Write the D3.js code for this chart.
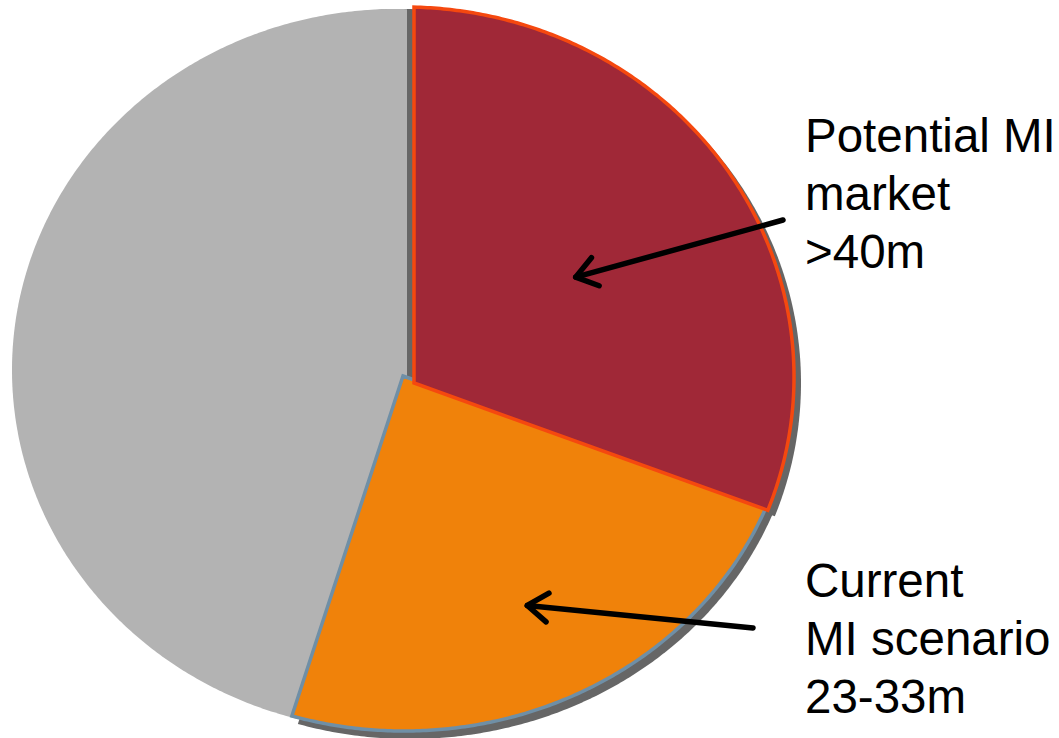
<!DOCTYPE html>
<html>
<head>
<meta charset="utf-8">
<script src="https://cdn.jsdelivr.net/npm/d3@7"></script>
<style>
  html, body { margin: 0; padding: 0; background: #ffffff; }
  svg { display: block; }
</style>
</head>
<body>
<svg id="chart" width="1059" height="738"></svg>
<script>
// ---- data ----
const categories = ["Potential MI market >40m", "Current MI scenario 23-33m", "Other"];
const values = [40, 31, 59];
const labelLines = [
  ["Potential MI", "market", ">40m"],
  ["Current", "MI scenario", "23-33m"],
  []
];

// ---- styling / layout (per slice, perspective-like elliptical pie) ----
const fills   = ["#A02837", "#F0820A", "#B3B3B3"];
const strokes = ["#F5480F", "#6F8FA6", "none"];
const geom = [
  { ax: 414, ay: 383, cx: 404, cy: 377, rx: 390, ry: 370, sh: [7, 6] },
  { ax: 403, ay: 376, cx: 404, cy: 375, rx: 390, ry: 356, sh: [6, 8] },
  { ax: 407, ay: 377, cx: 396, cy: 370, rx: 384, ry: 361, sh: [7, 0] }
];
const labelPos = [
  { x: 805, y: 152, tail: [783, 220], tipR: 0.51 },
  { x: 805, y: 597, tail: [753, 628], tipR: 0.72 }
];
const lineH = 58;

const svg = d3.select("#chart");
const pie = d3.pie().sort(null).value(d => d)(values);

function outlinePoint(g, theta, frac) {
  const px = (g.ax - g.cx) / g.rx, py = (g.ay - g.cy) / g.ry;
  const dx = Math.sin(theta), dy = -Math.cos(theta);
  const pd = px * dx + py * dy;
  const t = -pd + Math.sqrt(pd * pd - (px * px + py * py - 1));
  const qx = px + t * frac * dx, qy = py + t * frac * dy;
  return [g.cx + g.rx * qx, g.cy + g.ry * qy];
}

function slicePath(arc, g) {
  const n = Math.max(8, Math.ceil((arc.endAngle - arc.startAngle) * 120));
  const pts = [[g.ax, g.ay]];
  d3.range(n + 1).forEach(i => {
    const th = arc.startAngle + (arc.endAngle - arc.startAngle) * i / n;
    pts.push(outlinePoint(g, th, 1));
  });
  return d3.line()(pts) + "Z";
}

// shadows / side walls
const drawOrder = [2, 1, 0];
const shadowG = svg.append("g");
drawOrder.forEach(i => {
  shadowG.append("path")
    .attr("d", slicePath(pie[i], geom[i]))
    .attr("transform", `translate(${geom[i].sh[0]},${geom[i].sh[1]})`)
    .attr("fill", "#666666");
});

// slices
const sliceG = svg.append("g");
drawOrder.forEach(i => {
  sliceG.append("path")
    .attr("d", slicePath(pie[i], geom[i]))
    .attr("fill", fills[i])
    .attr("stroke", strokes[i])
    .attr("stroke-width", 3.5)
    .attr("stroke-linejoin", "miter");
});

// labels + arrows
const annG = svg.append("g");
labelPos.forEach((lp, i) => {
  const mid = (pie[i].startAngle + pie[i].endAngle) / 2;
  const tip = outlinePoint(geom[i], mid, lp.tipR);
  const tail = lp.tail;
  annG.append("line")
    .attr("x1", tail[0]).attr("y1", tail[1])
    .attr("x2", tip[0]).attr("y2", tip[1])
    .attr("stroke", "#000").attr("stroke-width", 5.5)
    .attr("stroke-linecap", "round");
  const ang = Math.atan2(tail[1] - tip[1], tail[0] - tip[0]);
  const hl = 25, spread = 0.62;
  const w1 = [tip[0] + hl * Math.cos(ang + spread), tip[1] + hl * Math.sin(ang + spread)];
  const w2 = [tip[0] + hl * Math.cos(ang - spread), tip[1] + hl * Math.sin(ang - spread)];
  annG.append("path")
    .attr("d", d3.line()([w1, tip, w2]))
    .attr("fill", "none").attr("stroke", "#000").attr("stroke-width", 5.5)
    .attr("stroke-linecap", "round").attr("stroke-linejoin", "round");

  const txt = annG.append("text")
    .attr("x", lp.x).attr("y", lp.y)
    .attr("font-family", "'Liberation Sans', Arial, sans-serif")
    .attr("font-size", 47.5)
    .attr("fill", "#000");
  labelLines[i].forEach((s, k) => {
    txt.append("tspan").attr("x", lp.x).attr("y", lp.y + k * lineH).text(s);
  });
});
</script>
</body>
</html>
